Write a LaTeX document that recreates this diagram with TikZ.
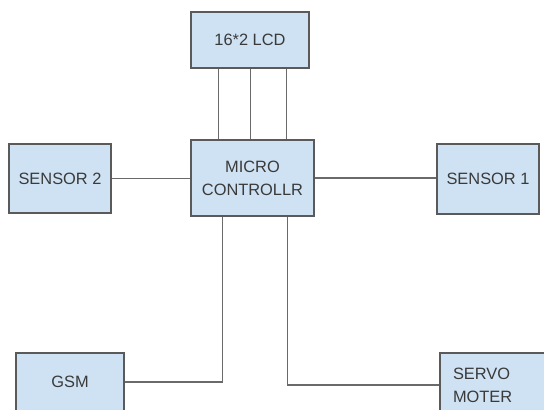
\documentclass[tikz,border=0pt]{standalone}
\usepackage{fontspec}
\setmainfont{Liberation Sans}
\usepackage{tikz}
\usetikzlibrary{positioning}

\definecolor{boxfill}{HTML}{CFE2F3}
\definecolor{boxline}{HTML}{5A5A5A}
\definecolor{wire}{HTML}{6A6A6A}
\definecolor{txt}{HTML}{3A3A3A}

\begin{document}
\begin{tikzpicture}[x=0.5pt,y=-0.5pt,
  blk/.style={draw=boxline, line width=0.7pt, fill=boxfill, text=txt,
    font=\fontsize{8.2}{11.5}\selectfont, align=center, inner sep=0pt},
  wr/.style={draw=wire, line width=0.7pt}]
\clip (0,0) rectangle (544,409);
\fill[white] (0,0) rectangle (544,409);

\node[blk, minimum width=59pt, minimum height=28pt] (lcd) at (250,40) {16*2 LCD};
\node[blk, minimum width=61.5pt, minimum height=38pt] (micro) at (252.5,178) {MICRO\\CONTROLLR};
\node[blk, minimum width=51pt, minimum height=34.5pt] (sen2) at (60,178.5) {SENSOR 2};
\node[blk, minimum width=51pt, minimum height=35pt] (sen1) at (488,179) {SENSOR 1};
\node[blk, minimum width=54pt, minimum height=29pt] (gsm) at (70,382) {GSM};
\node[blk, text width=47pt, align=left, inner xsep=6.5pt, minimum height=32pt] (servo) at (500,385) {SERVO\\MOTER};

% lcd bus
\foreach \dx in {28,60,96}
  \draw[wr] ([xshift=\dx*0.5pt]lcd.south west) -- ([xshift=\dx*0.5pt]micro.north west);

\draw[wr] (sen2.east) -- (sen2.east -| micro.west);
\draw[wr] (micro.east) -- (micro.east -| sen1.west);
\draw[wr] ([xshift=32*0.5pt]micro.south west) |- (gsm.east);
\draw[wr] ([xshift=97*0.5pt]micro.south west) |- (servo.west);
\end{tikzpicture}
\end{document}
